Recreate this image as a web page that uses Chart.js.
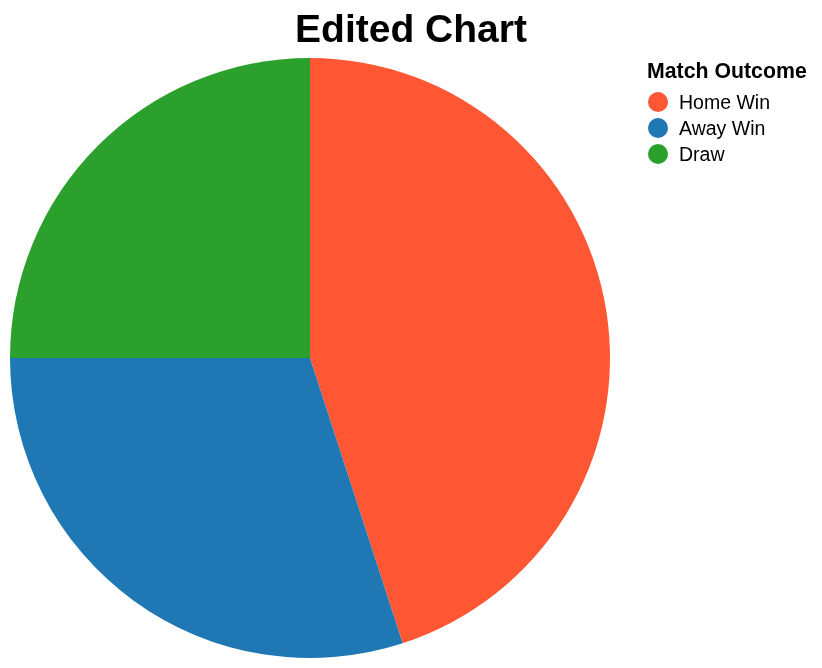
<!DOCTYPE html>
<html>
<head>
<meta charset="utf-8">
<script src="https://cdn.jsdelivr.net/npm/chart.js@4"></script>
<style>
  html, body { margin: 0; padding: 0; background: #ffffff; }
  #wrap { width: 822px; height: 668px; position: relative; }
</style>
</head>
<body>
<div id="wrap"><canvas id="c" width="822" height="668"></canvas></div>
<script>
const chartTitle = 'Edited Chart';
const legendTitle = 'Match Outcome';
const categories = ['Home Win', 'Away Win', 'Draw'];
const shares = [45, 30, 25];
const colors = ['#FF5733', '#1F77B4', '#2CA02C'];

const FONT = '"Liberation Sans", Arial, Helvetica, sans-serif';

const overlay = {
  id: 'overlay',
  afterDraw(chart) {
    const ctx = chart.ctx;
    ctx.save();
    ctx.fillStyle = '#000';
    ctx.textAlign = 'center';
    ctx.textBaseline = 'alphabetic';
    ctx.font = 'bold 39px ' + FONT;
    ctx.fillText(chartTitle, 411, 42);

    ctx.textAlign = 'left';
    ctx.font = 'bold 21.3px ' + FONT;
    ctx.fillText(legendTitle, 647, 78);

    ctx.font = '19.5px ' + FONT;
    categories.forEach((lab, i) => {
      const cy = 102 + i * 26;
      ctx.beginPath();
      ctx.arc(658, cy, 10, 0, Math.PI * 2);
      ctx.fillStyle = colors[i];
      ctx.fill();
      ctx.fillStyle = '#000';
      ctx.fillText(lab, 679, cy + 7);
    });
    ctx.restore();
  }
};

new Chart(document.getElementById('c'), {
  type: 'pie',
  data: {
    labels: categories,
    datasets: [{
      data: shares,
      backgroundColor: colors,
      borderWidth: 0,
      hoverOffset: 0,
      offset: 0
    }]
  },
  options: {
    responsive: false,
    animation: false,
    layout: { padding: { left: 10, right: 212, top: 58, bottom: 10 } },
    plugins: {
      legend: { display: false },
      title: { display: false },
      tooltip: { enabled: false }
    }
  },
  plugins: [overlay]
});
</script>
</body>
</html>
